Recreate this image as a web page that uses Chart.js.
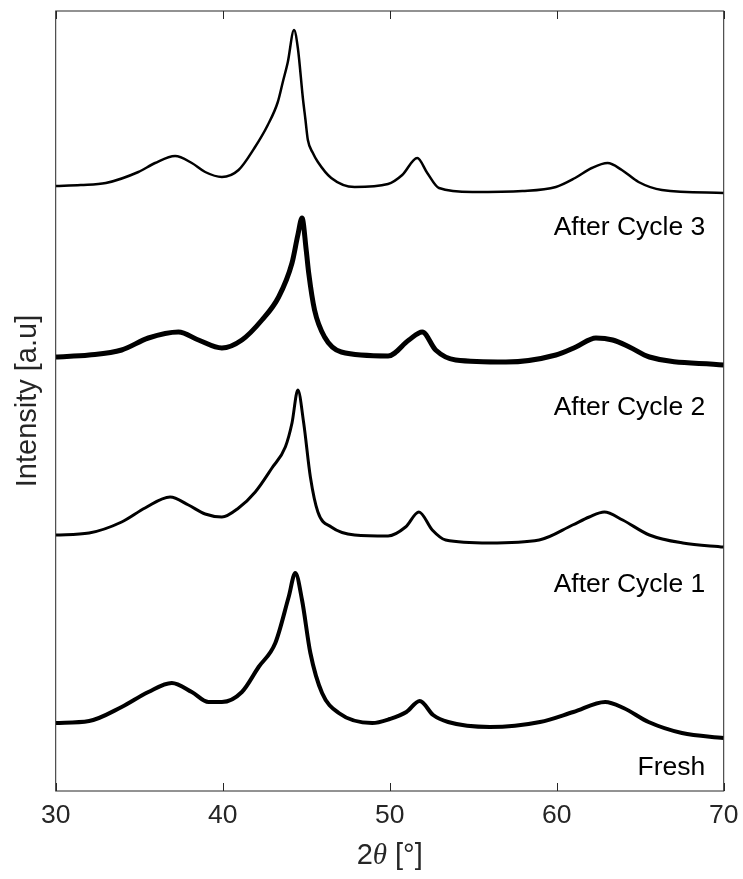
<!DOCTYPE html>
<html>
<head>
<meta charset="utf-8">
<script src="https://cdn.jsdelivr.net/npm/chart.js@4/dist/chart.umd.min.js"></script>
<style>
  html, body { margin: 0; padding: 0; background: #fff; overflow: hidden; }
  canvas { display: block; }
</style>
</head>
<body>
<canvas id="xrd" width="743" height="879"></canvas>
<script>
// 2θ positions and intensities (a.u., stacked offsets)
const cycle3Angle = [30, 31.5, 33.0, 34.95, 35.95, 37.15, 38.15, 38.95, 39.95, 40.95, 41.9, 42.7, 43.3, 43.6, 43.9, 44.27, 44.5, 44.8, 44.95, 45.1, 45.4, 45.7, 46.5, 47.9, 49.9, 50.75, 51.65, 52.25, 52.95, 54.95, 57.95, 59.95, 61.1, 62.1, 63.05, 63.9, 64.9, 66.3, 70];
const cycle3Int   = [605, 606, 608, 619, 628, 635, 628, 619, 614, 621, 643, 666, 689, 709, 729, 761, 743, 693, 672, 651, 638, 629, 613, 604, 607, 616, 633, 618, 603, 599, 600, 604, 613, 623, 628, 621, 609, 601, 598];

const cycle2Angle = [30, 32, 33.95, 35.55, 37.35, 38.55, 39.95, 41.15, 42.35, 43.35, 44.15, 44.5, 44.75, 45.0, 45.15, 45.5, 46.1, 47.1, 49.9, 51.15, 51.95, 52.75, 53.95, 56.95, 59.95, 61.15, 62.35, 63.35, 64.35, 65.55, 70];
const cycle2Int   = [434, 436, 441, 453, 459, 451, 443, 451, 471, 494, 528, 556, 573, 541, 518, 481, 454, 439, 435, 451, 459, 441, 431, 429, 436, 444, 453, 451, 444, 434, 426];

const cycle1Angle = [30, 32, 33.95, 35.35, 36.85, 37.95, 38.95, 39.95, 40.95, 41.95, 42.95, 43.75, 44.15, 44.5, 44.85, 45.25, 45.7, 46.5, 47.9, 49.9, 50.95, 51.75, 52.55, 53.35, 55.95, 58.95, 60.95, 61.95, 62.85, 63.95, 65.55, 67.55, 70];
const cycle1Int   = [256, 258, 269, 283, 294, 286, 277, 274, 283, 299, 323, 344, 368, 401, 368, 314, 279, 264, 256, 255, 264, 279, 261, 251, 248, 251, 266, 274, 279, 271, 256, 248, 244];

const freshAngle = [30, 32, 33.95, 35.55, 36.95, 38.15, 39.15, 39.95, 41.15, 42.15, 43.15, 43.95, 44.35, 44.75, 45.25, 45.95, 46.95, 48.95, 50, 51, 51.8, 52.6, 53.5, 56, 59, 61, 62.9, 64, 65.5, 67.5, 70];
const freshInt   = [68, 70, 84, 99, 108, 99, 89, 89, 99, 124, 148, 194, 218, 191, 138, 98, 78, 68, 72, 79, 90, 76, 69, 64, 69, 79, 89, 83, 69, 58, 53];

const xTicks = [30, 40, 50, 60, 70];
const sampleNames = ['After Cycle 3', 'After Cycle 2', 'After Cycle 1', 'Fresh'];
// where each name sits: 2θ of its right edge, intensity of its middle
const nameAngle = [68.9, 68.9, 68.9, 68.9];
const nameInt   = [563, 383, 206, 23];

const axisColor = '#262626';
const fontFamily = '"Liberation Sans", Arial, Helvetica, sans-serif';
const fontSize = 26.5;
const titleSize = 29;

function pts(angles, ints) {
    return angles.map((a, i) => ({ x: a, y: ints[i] }));
}

// frame, inward ticks, axis titles and sample names
const decorations = {
    id: 'decorations',
    afterDraw(chart) {
        const { ctx, chartArea: area, scales } = chart;
        const x = scales.x, y = scales.y;
        ctx.save();
        ctx.strokeStyle = axisColor;
        ctx.lineWidth = 1;
        ctx.strokeRect(area.left, area.top, area.right - area.left, area.bottom - area.top);
        ctx.beginPath();
        xTicks.forEach(t => {
            const px = Math.round(x.getPixelForValue(t)) + 0.5;
            ctx.moveTo(px, area.bottom);
            ctx.lineTo(px, area.bottom - 8);
            ctx.moveTo(px, area.top);
            ctx.lineTo(px, area.top + 8);
        });
        ctx.stroke();

        ctx.fillStyle = '#000';
        ctx.font = fontSize + 'px ' + fontFamily;
        ctx.textBaseline = 'middle';
        ctx.textAlign = 'right';
        sampleNames.forEach((name, i) => {
            ctx.fillText(name, x.getPixelForValue(nameAngle[i]), y.getPixelForValue(nameInt[i]));
        });

        // y title
        ctx.save();
        ctx.translate(28, (area.top + area.bottom) / 2);
        ctx.rotate(-Math.PI / 2);
        ctx.textAlign = 'center';
        ctx.fillStyle = axisColor;
        ctx.font = titleSize + 'px ' + fontFamily;
        ctx.fillText('Intensity [a.u]', 0, 0);
        ctx.restore();

        // x title: 2θ [°] with italic theta
        const parts = [
            { t: '2', f: titleSize + 'px ' + fontFamily },
            { t: 'θ', f: 'italic ' + titleSize + 'px "Liberation Serif", "DejaVu Serif", serif' },
            { t: ' [°]', f: titleSize + 'px ' + fontFamily }
        ];
        let total = 0;
        parts.forEach(p => { ctx.font = p.f; p.w = ctx.measureText(p.t).width; total += p.w; });
        let cx = (area.left + area.right) / 2 - total / 2;
        ctx.textAlign = 'left';
        ctx.fillStyle = axisColor;
        parts.forEach(p => {
            ctx.font = p.f;
            ctx.fillText(p.t, cx, 856);
            cx += p.w;
        });
        ctx.restore();
    }
};

const ctx = document.getElementById('xrd').getContext('2d');
new Chart(ctx, {
    type: 'line',
    data: {
        datasets: [
            { label: sampleNames[0], data: pts(cycle3Angle, cycle3Int), borderColor: '#000', borderWidth: 2.5 },
            { label: sampleNames[1], data: pts(cycle2Angle, cycle2Int), borderColor: '#000', borderWidth: 5 },
            { label: sampleNames[2], data: pts(cycle1Angle, cycle1Int), borderColor: '#000', borderWidth: 3 },
            { label: sampleNames[3], data: pts(freshAngle, freshInt), borderColor: '#000', borderWidth: 4 }
        ]
    },
    options: {
        responsive: false,
        animation: false,
        layout: { padding: { left: 55.7, right: 19.3, top: 11, bottom: 0 } },
        elements: {
            point: { radius: 0 },
            line: { fill: false, cubicInterpolationMode: 'monotone' }
        },
        scales: {
            x: {
                type: 'linear',
                min: 30,
                max: 70,
                afterFit: s => { s.height = 88; s.paddingLeft = 0; s.paddingRight = 0; },
                afterBuildTicks: s => { s.ticks = xTicks.map(v => ({ value: v })); },
                grid: { display: false, drawTicks: false },
                border: { display: false },
                ticks: {
                    padding: 9,
                    color: axisColor,
                    font: { family: fontFamily, size: fontSize }
                }
            },
            y: {
                display: false,
                min: 0,
                max: 780
            }
        },
        plugins: {
            legend: { display: false },
            tooltip: { enabled: false }
        }
    },
    plugins: [decorations]
});
</script>
</body>
</html>
